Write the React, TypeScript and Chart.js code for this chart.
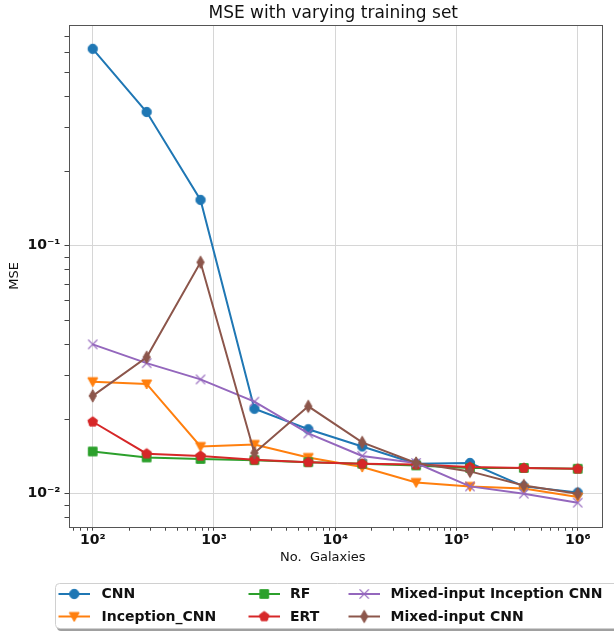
import React, { useEffect, useRef } from 'react';
import { Chart, registerables } from 'chart.js';

Chart.register(...registerables);

// ---------- data ----------
const galaxies = [100, 278.3, 774.3, 2154.4, 5994.8, 16681, 46416, 129155, 359381, 1000000];

const cnn = [0.622, 0.346, 0.153, 0.022, 0.0182, 0.0155, 0.0132, 0.0133, 0.0107, 0.0101];
const inceptionCnn = [0.0283, 0.0277, 0.0155, 0.0158, 0.014, 0.0128, 0.0111, 0.0107, 0.0105, 0.0097];
const rf = [0.0148, 0.014, 0.0138, 0.01365, 0.0134, 0.0132, 0.013, 0.0127, 0.0127, 0.0126];
const ert = [0.0195, 0.0145, 0.0142, 0.0137, 0.0134, 0.0132, 0.0131, 0.0128, 0.0127, 0.0126];
const mixedInceptionCnn = [0.04, 0.0336, 0.0289, 0.0235, 0.0175, 0.0142, 0.0133, 0.0107, 0.01, 0.0092];
const mixedCnn = [0.0248, 0.0355, 0.0857, 0.0146, 0.0225, 0.0161, 0.0133, 0.0123, 0.0108, 0.01];

const seriesNames = ['CNN', 'Inception_CNN', 'RF', 'ERT', 'Mixed-input Inception CNN', 'Mixed-input CNN'];
const seriesColors = ['#1f77b4', '#ff7f0e', '#2ca02c', '#d62728', '#9467bd', '#8c564b'];
const seriesMarkers = ['circle', 'triDown', 'square', 'pentagon', 'x', 'thinDiamond'];

const xMajorTicks = [1e2, 1e3, 1e4, 1e5, 1e6];
const xTickLabels = ['10²', '10³', '10⁴', '10⁵', '10⁶'];
const yMajorTicks = [0.01, 0.1];
const yTickLabels = ['10⁻²', '10⁻¹'];

const chartTitle = 'MSE with varying training set';
const xAxisTitle = 'No.  Galaxies      ';
const yAxisTitle = 'MSE';

const X_MIN = 63.1;
const X_MAX = 1585000;
const Y_MIN = 0.00736;
const Y_MAX = 0.776;

const FONT = 'DejaVu Sans';

// ---------- helpers ----------
function minorTicks(min: number, max: number, majors: number[]): number[] {
  const out: number[] = [];
  const lo = Math.floor(Math.log10(min));
  const hi = Math.ceil(Math.log10(max));
  for (let e = lo; e <= hi; e++) {
    for (let m = 1; m <= 9; m++) {
      const v = parseFloat((m * Math.pow(10, e)).toPrecision(6));
      if (v >= min && v <= max) out.push(v);
    }
  }
  const all = out.filter((v) => !majors.some((mj) => Math.abs(mj - v) / mj < 1e-9)).concat(majors);
  return all.sort((a, b) => a - b);
}

function isMajor(v: number, majors: number[]) {
  return majors.some((mj) => Math.abs(mj - v) / mj < 1e-9);
}

function labelFor(v: number, majors: number[], labels: string[]) {
  const i = majors.findIndex((mj) => Math.abs(mj - v) / mj < 1e-9);
  return i >= 0 ? labels[i] : '';
}

function makeMarker(kind: string, color: string): HTMLCanvasElement {
  const c = document.createElement('canvas');
  const s = 18;
  c.width = s;
  c.height = s;
  const g = c.getContext('2d')!;
  g.translate(s / 2, s / 2);
  g.fillStyle = color;
  g.strokeStyle = color;
  g.lineWidth = 1;
  g.lineJoin = 'miter';
  g.beginPath();
  switch (kind) {
    case 'circle':
      g.arc(0, 0, 4.7, 0, Math.PI * 2);
      break;
    case 'triDown':
      g.moveTo(-5, -4);
      g.lineTo(5, -4);
      g.lineTo(0, 5);
      g.closePath();
      break;
    case 'square':
      g.rect(-4.3, -4.3, 8.6, 8.6);
      break;
    case 'pentagon':
      for (let i = 0; i < 5; i++) {
        const a = (-90 + i * 72) * (Math.PI / 180);
        const px = 5.1 * Math.cos(a);
        const py = 5.1 * Math.sin(a);
        if (i === 0) g.moveTo(px, py);
        else g.lineTo(px, py);
      }
      g.closePath();
      break;
    case 'thinDiamond':
      g.moveTo(0, -6.2);
      g.lineTo(3.6, 0);
      g.lineTo(0, 6.2);
      g.lineTo(-3.6, 0);
      g.closePath();
      break;
    case 'x':
      g.moveTo(-4.6, -4.6);
      g.lineTo(4.6, 4.6);
      g.moveTo(4.6, -4.6);
      g.lineTo(-4.6, 4.6);
      g.lineWidth = 1.3;
      g.stroke();
      return c;
  }
  g.fill();
  g.stroke();
  return c;
}

export default function App() {
  const canvasRef = useRef<HTMLCanvasElement | null>(null);

  useEffect(() => {
    const canvas = canvasRef.current;
    if (!canvas) return;

    const seriesValues = [cnn, inceptionCnn, rf, ert, mixedInceptionCnn, mixedCnn];
    const markers = seriesMarkers.map((m, i) => makeMarker(m, seriesColors[i]));

    const datasets = seriesValues.map((vals, i) => ({
      label: seriesNames[i],
      data: galaxies.map((g, j) => ({ x: g, y: vals[j] })),
      borderColor: seriesColors[i],
      backgroundColor: seriesColors[i],
      borderWidth: 2,
      pointStyle: markers[i] as any,
      pointRadius: 5,
      pointHoverRadius: 5,
      tension: 0,
      order: seriesValues.length - i,
    }));

    const xTicks = minorTicks(X_MIN, X_MAX, xMajorTicks);
    const yTicks = minorTicks(Y_MIN, Y_MAX, yMajorTicks);

    const decor = {
      id: 'decor',
      afterDraw(chart: any) {
        const ctx = chart.ctx as CanvasRenderingContext2D;
        const a = chart.chartArea;
        ctx.save();
        // frame (spines)
        ctx.strokeStyle = '#555';
        ctx.lineWidth = 1;
        ctx.strokeRect(Math.round(a.left) + 0.5, Math.round(a.top) + 0.5, Math.round(a.right - a.left) - 1, Math.round(a.bottom - a.top));
        // title
        ctx.fillStyle = '#111';
        ctx.font = `17px "${FONT}"`;
        ctx.textAlign = 'center';
        ctx.textBaseline = 'middle';
        ctx.fillText(chartTitle, (a.left + a.right) / 2 - 2, 14);

        // legend
        const boxX = 55;
        const boxY = 583;
        const boxW = 575;
        const boxH = 45;
        const r = 4;
        const rr = (x: number, y: number, w: number, h: number) => {
          ctx.beginPath();
          ctx.moveTo(x + r, y);
          ctx.lineTo(x + w - r, y);
          ctx.arcTo(x + w, y, x + w, y + r, r);
          ctx.lineTo(x + w, y + h - r);
          ctx.arcTo(x + w, y + h, x + w - r, y + h, r);
          ctx.lineTo(x + r, y + h);
          ctx.arcTo(x, y + h, x, y + h - r, r);
          ctx.lineTo(x, y + r);
          ctx.arcTo(x, y, x + r, y, r);
          ctx.closePath();
        };
        ctx.fillStyle = 'rgba(120,120,120,0.7)';
        rr(boxX + 2, boxY + 3, boxW, boxH);
        ctx.fill();
        ctx.fillStyle = '#ffffff';
        rr(boxX, boxY, boxW, boxH);
        ctx.fill();
        ctx.strokeStyle = '#d0d0d0';
        ctx.lineWidth = 1;
        rr(boxX + 0.5, boxY + 0.5, boxW, boxH);
        ctx.stroke();

        const colHandle = [58.5, 248.5, 348.5];
        const colText = [101.5, 290, 390.5];
        const rowY = [594, 616.5];
        const handleLen = 31.5;
        ctx.font = `bold 14px "${FONT}"`;
        ctx.textAlign = 'left';
        ctx.textBaseline = 'middle';
        chart.data.datasets.forEach((ds: any, i: number) => {
          const col = Math.floor(i / 2);
          const row = i % 2;
          const hx = colHandle[col];
          const y = rowY[row];
          ctx.strokeStyle = ds.borderColor;
          ctx.lineWidth = 2;
          ctx.beginPath();
          ctx.moveTo(hx, y);
          ctx.lineTo(hx + handleLen, y);
          ctx.stroke();
          const m = ds.pointStyle as HTMLCanvasElement;
          ctx.drawImage(m, hx + handleLen / 2 - m.width / 2, y - m.height / 2);
          ctx.fillStyle = '#111';
          ctx.fillText(ds.label, colText[col], y + 0.5);
        });
        ctx.restore();
      },
    };

    const chart = new Chart(canvas, {
      type: 'line',
      data: { datasets },
      options: {
        animation: false,
        responsive: false,
        devicePixelRatio: 1,
        layout: { padding: { top: 25, right: 12, bottom: 68, left: 0 } },
        plugins: {
          legend: { display: false },
          title: { display: false },
          tooltip: { enabled: false },
        },
        scales: {
          x: {
            type: 'logarithmic',
            min: X_MIN,
            max: X_MAX,
            afterBuildTicks: (scale: any) => {
              scale.ticks = xTicks.map((v) => ({ value: v, major: isMajor(v, xMajorTicks) }));
            },
            afterFit: (scale: any) => {
              scale.height = 38.3;
            },
            ticks: {
              autoSkip: false,
              maxRotation: 0,
              minRotation: 0,
              padding: 1,
              color: '#111',
              font: { family: FONT, size: 14, weight: 'bold' },
              callback: (v: any) => labelFor(Number(v), xMajorTicks, xTickLabels),
            },
            grid: {
              color: (c: any) => (c.tick && isMajor(c.tick.value, xMajorTicks) ? '#d6d6d6' : 'rgba(0,0,0,0)'),
              lineWidth: 1,
              tickColor: '#444',
              tickLength: 4,
              drawTicks: true,
            },
            border: { display: false },
            title: {
              display: true,
              text: xAxisTitle,
              color: '#111',
              font: { family: FONT, size: 13 },
              padding: { top: 0, bottom: 0 },
            },
          },
          y: {
            type: 'logarithmic',
            min: Y_MIN,
            max: Y_MAX,
            afterBuildTicks: (scale: any) => {
              scale.ticks = yTicks.map((v) => ({ value: v, major: isMajor(v, yMajorTicks) }));
            },
            afterFit: (scale: any) => {
              scale.width = 68.5;
            },
            ticks: {
              autoSkip: false,
              padding: 4,
              color: '#111',
              font: { family: FONT, size: 14, weight: 'bold' },
              callback: (v: any) => labelFor(Number(v), yMajorTicks, yTickLabels),
            },
            grid: {
              color: (c: any) => (c.tick && isMajor(c.tick.value, yMajorTicks) ? '#d6d6d6' : 'rgba(0,0,0,0)'),
              lineWidth: 1,
              tickColor: '#444',
              tickLength: 4,
              drawTicks: true,
            },
            border: { display: false },
            title: {
              display: true,
              text: yAxisTitle,
              color: '#111',
              font: { family: FONT, size: 13 },
              padding: { top: 7, bottom: 0 },
            },
          },
        },
      },
      plugins: [decor],
    } as any);

    return () => {
      chart.destroy();
    };
  }, []);

  return (
    <div style={{ position: 'absolute', left: 0, top: 0, width: 614, height: 633, background: '#fff' }}>
      <canvas ref={canvasRef} width={614} height={633} style={{ display: 'block' }} />
    </div>
  );
}
